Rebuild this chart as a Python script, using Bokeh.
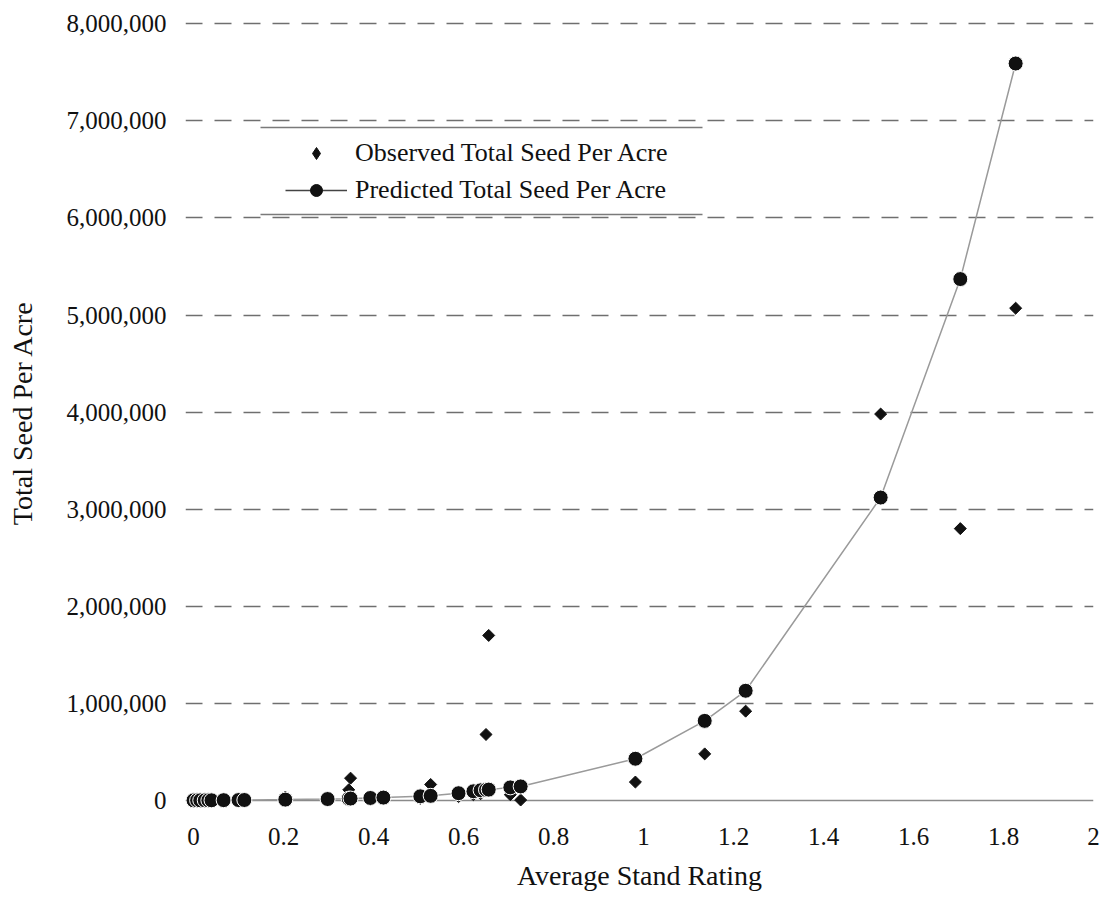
from bokeh.plotting import figure
from bokeh.models import (Range1d, FixedTicker, NumeralTickFormatter, Span,
                          Legend, LegendItem, Arrow, ColumnDataSource)
from bokeh.embed import file_html
from bokeh.resources import INLINE

# ---- data ----
stand_rating = [0.0, 0.008, 0.015, 0.025, 0.033, 0.04, 0.067, 0.1, 0.113,
                0.204, 0.298, 0.345, 0.349, 0.393, 0.422, 0.504, 0.527,
                0.589, 0.622, 0.638, 0.65, 0.656, 0.704, 0.727,
                0.982, 1.136, 1.227, 1.527, 1.704, 1.827]
observed_seed = [0, 0, 0, 0, 0, 0, 0, 0, 0,
                 35000, 5000, 110000, 230000, 10000, 15000, 20000, 165000,
                 40000, 60000, 70000, 680000, 1700000, 60000, 5000,
                 190000, 480000, 920000, 3980000, 2800000, 5070000]
predicted_seed = [1500, 1600, 1700, 1800, 1900, 2000, 3500, 4500, 5000,
                  9000, 15000, 19000, 20000, 26000, 30000, 43000, 48000,
                  75000, 95000, 105000, 110000, 112000, 135000, 145000,
                  430000, 820000, 1130000, 3120000, 5370000, 7590000]
x_ticks = [0, 0.2, 0.4, 0.6, 0.8, 1.0, 1.2, 1.4, 1.6, 1.8, 2.0]
y_ticks = [0, 1000000, 2000000, 3000000, 4000000, 5000000, 6000000, 7000000, 8000000]

FONT = "Liberation Serif"
NAN = float("nan")

src = ColumnDataSource(dict(x=stand_rating, obs=observed_seed, pred=predicted_seed))

p = figure(width=1106, height=912, output_backend="svg", toolbar_location=None,
           x_range=Range1d(-0.0178, 2.0), y_range=Range1d(-154500, 8136000),
           min_border_left=185, min_border_right=13, min_border_top=10,
           min_border_bottom=97, background_fill_color="white",
           border_fill_color="white")
p.outline_line_color = None

# grid
p.xgrid.grid_line_color = None
p.ygrid.ticker = FixedTicker(ticks=y_ticks[1:])
p.ygrid.grid_line_color = "#6f6f6f"
p.ygrid.grid_line_width = 1.5
p.ygrid.grid_line_dash = "17 12"

# baseline at zero
p.add_layout(Span(location=0, dimension="width", line_color="#8a8a8a",
                  line_width=1.5, level="underlay"))

# axes
p.xaxis.ticker = FixedTicker(ticks=x_ticks)
p.xaxis.formatter = NumeralTickFormatter(format="0.[0]")
p.yaxis.ticker = FixedTicker(ticks=y_ticks)
p.yaxis.formatter = NumeralTickFormatter(format="0,0")
for ax in (p.xaxis[0], p.yaxis[0]):
    ax.axis_line_color = None
    ax.major_tick_line_color = None
    ax.minor_tick_line_color = None
    ax.major_tick_in = 0
    ax.major_tick_out = 0
    ax.major_label_text_font = FONT
    ax.major_label_text_font_size = "25px"
    ax.major_label_text_color = "#111111"
    ax.axis_label_text_font = FONT
    ax.axis_label_text_font_size = "28px"
    ax.axis_label_text_font_style = "normal"
    ax.axis_label_text_color = "#111111"
p.xaxis.axis_label = "Average Stand Rating"
p.yaxis.axis_label = "Total Seed Per Acre"
p.xaxis.major_label_standoff = 12
p.xaxis.axis_label_standoff = 12
p.yaxis.major_label_standoff = 19
p.yaxis.axis_label_standoff = 26

# glyphs
p.scatter("x", "obs", source=src, marker="square", angle=0.785398, size=8.5,
          fill_color="#111111", line_color="#111111")
p.line("x", "pred", source=src, line_color="#9a9a9a", line_width=1.5)
p.scatter("x", "pred", source=src, marker="circle", size=15,
          fill_color="#111111", line_color="white", line_width=1)

# legend proxies (smaller symbols, like the reference legend); NaN -> not drawn in plot
lg_obs = p.scatter(x=[NAN], y=[NAN], marker="diamond", size=13,
                   fill_color="#111111", line_color="#111111")
lg_line = p.line(x=[NAN, NAN], y=[NAN, NAN], line_color="#444444", line_width=1.5)
lg_pred = p.scatter(x=[NAN], y=[NAN], marker="circle", size=11,
                    fill_color="#111111", line_color="#111111")

legend = Legend(items=[LegendItem(label="Observed Total Seed Per Acre", renderers=[lg_obs]),
                       LegendItem(label="Predicted Total Seed Per Acre", renderers=[lg_line, lg_pred])],
                location=(90, 600), glyph_width=62, glyph_height=30,
                label_height=30, label_standoff=8, spacing=7, padding=10,
                margin=0, label_text_font=FONT, label_text_font_size="26px",
                label_text_color="#111111", background_fill_alpha=0,
                border_line_alpha=0)
p.add_layout(legend)

# legend top / bottom rules
for yy in (688, 601):
    p.add_layout(Arrow(end=None, start=None, x_start=75, y_start=yy, x_end=517, y_end=yy,
                       start_units="screen", end_units="screen",
                       line_color="#7a7a7a", line_width=1.5))

open("out.html", "w").write(file_html(p, INLINE))
